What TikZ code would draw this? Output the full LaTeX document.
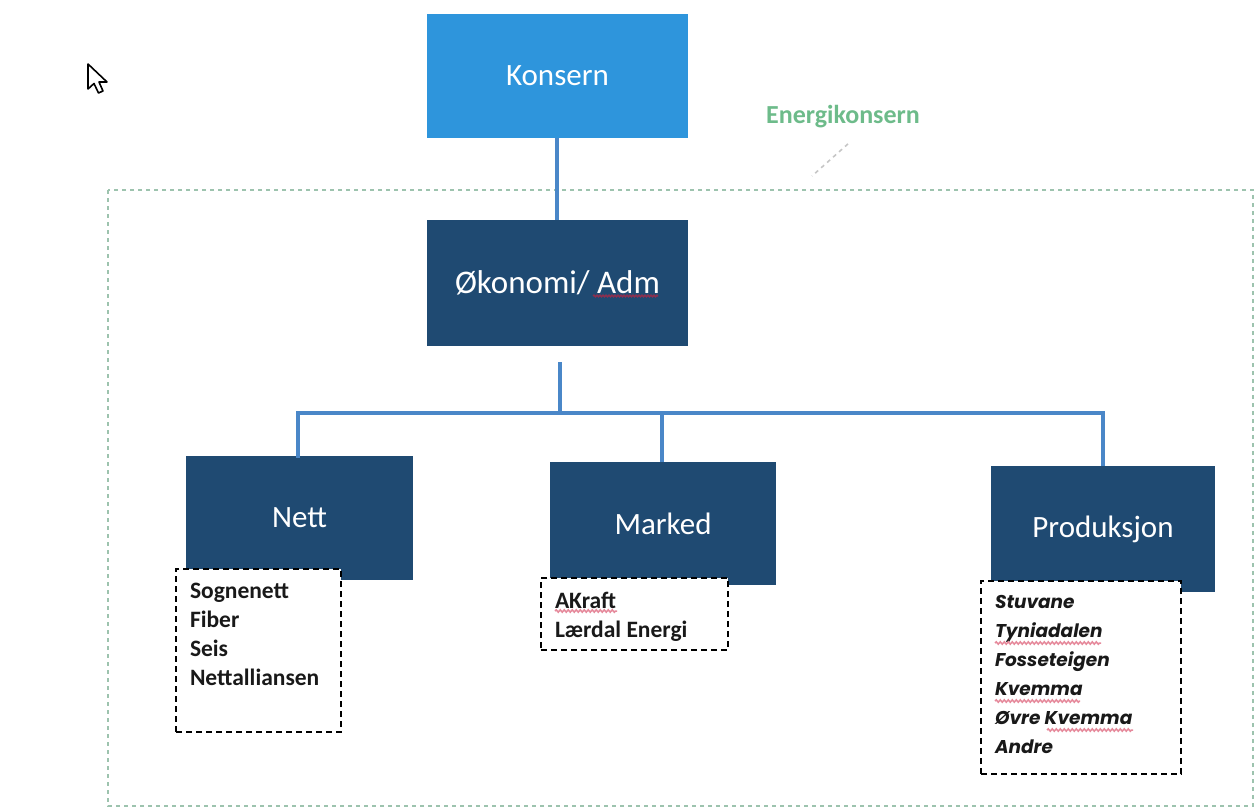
\documentclass[tikz,border=0pt]{standalone}
\usepackage{fontspec}
\setmainfont{Carlito}
\newfontfamily\popfont{Poppins}
\usetikzlibrary{decorations.pathmorphing,calc}
\definecolor{konsernblue}{HTML}{2E95DC}
\definecolor{navy}{HTML}{1F4A72}
\definecolor{linkblue}{HTML}{4A87C8}
\definecolor{framegreen}{HTML}{9DC3AE}
\definecolor{labelgreen}{HTML}{6DBB8A}
\definecolor{squig}{HTML}{E68A9C}
\definecolor{squigdark}{HTML}{8A3050}
\tikzset{
  orgbox/.style={fill=navy, text=white, inner sep=0pt, font=\fontsize{31}{37}\selectfont},
  topbox/.style={fill=konsernblue, text=white, inner sep=0pt, font=\fontsize{31}{37}\selectfont},
  link/.style={draw=linkblue, line width=4pt},
  listbox/.style={draw=black, dashed, dash pattern=on 6pt off 4pt, line width=2pt, fill=white, inner xsep=14pt, inner ysep=14pt, anchor=north west, font=\fontsize{23.5}{29}\selectfont\bfseries, text=black!90},
  spell/.style={draw=squig, line width=1.5pt, decorate, decoration={snake, amplitude=1.2pt, segment length=4pt}},
}
\begin{document}
\begin{tikzpicture}[x=1pt,y=-1pt]
\useasboundingbox (0,0) rectangle (1260,811);
% outer frame
\draw[framegreen, line width=1.6pt, dash pattern=on 4pt off 4pt] (108,190) rectangle (1253,806);
% cursor
\draw[black, line width=1.6pt, fill=white, line join=round]
  (88,64) -- (88,89) -- (94,83.5) -- (98.5,93) -- (103,91) -- (99,82) -- (107,82) -- cycle;
% label
\node[text=labelgreen, font=\fontsize{26}{30}\selectfont\bfseries] (energi) at (843,117) {Energikonsern};
\coordinate (leadend) at (812,176);
\draw[gray!45, line width=1.6pt, dash pattern=on 4pt off 4pt] ($(energi.south)+(5,12)$) -- (leadend);
% nodes
\node[topbox, minimum width=261pt, minimum height=124pt] (konsern) at (557.5,76) {Konsern};
\node[orgbox, minimum width=261pt, minimum height=126pt, font=\fontsize{33}{39}\selectfont] (okonomi) at (557.5,283) {Økonomi/ Adm};
\node[orgbox, minimum width=227pt, minimum height=124pt] (nett) at (299.5,518) {Nett};
\node[orgbox, minimum width=226pt, minimum height=123pt] (marked) at (663,523.5) {Marked};
\node[orgbox, minimum width=224pt, minimum height=126pt] (prod) at (1103,529) {Produksjon};
% connectors
\coordinate (okstub) at (560,362);
\coordinate (bus) at (560,413);
\draw[link] (konsern.south -| 557,0) -- (okonomi.north -| 557,0);
\draw[link] (okstub) -- (bus);
\draw[link, line cap=rect] (bus) -| (nett.north -| 298,0);
\draw[link] (bus) -| (prod.north);
\draw[link] (marked.north -| 662,0) -- (662,413);
% lists
\node[listbox] (nettlist) at (175,568) {\parbox[t][135pt][t]{137pt}{Sognenett\\Fiber\\Seis\\Nettalliansen}};
\node[listbox] (marklist) at (540,577) {\parbox[t][44pt][t]{159pt}{AKraft\\Lærdal Energi}};
\node[listbox, font=\fontsize{18.5}{29}\selectfont\popfont\bfseries\itshape] (prodlist) at (980,580) {\parbox[t][165pt][t]{172pt}{Stuvane\\Tyniadalen\\Fosseteigen\\Kvemma\\Øvre Kvemma\\Andre}};
% spelling marks
\draw[spell, draw=squigdark, decoration={snake, amplitude=0.8pt, segment length=3pt}] (593,296) -- (658,296);
\draw[spell] (555,611) -- (617,611);
\draw[spell] (995,643) -- (1101,643);
\draw[spell] (995,701) -- (1080,701);
\draw[spell] (1047,730) -- (1133,730);
\end{tikzpicture}
\end{document}
